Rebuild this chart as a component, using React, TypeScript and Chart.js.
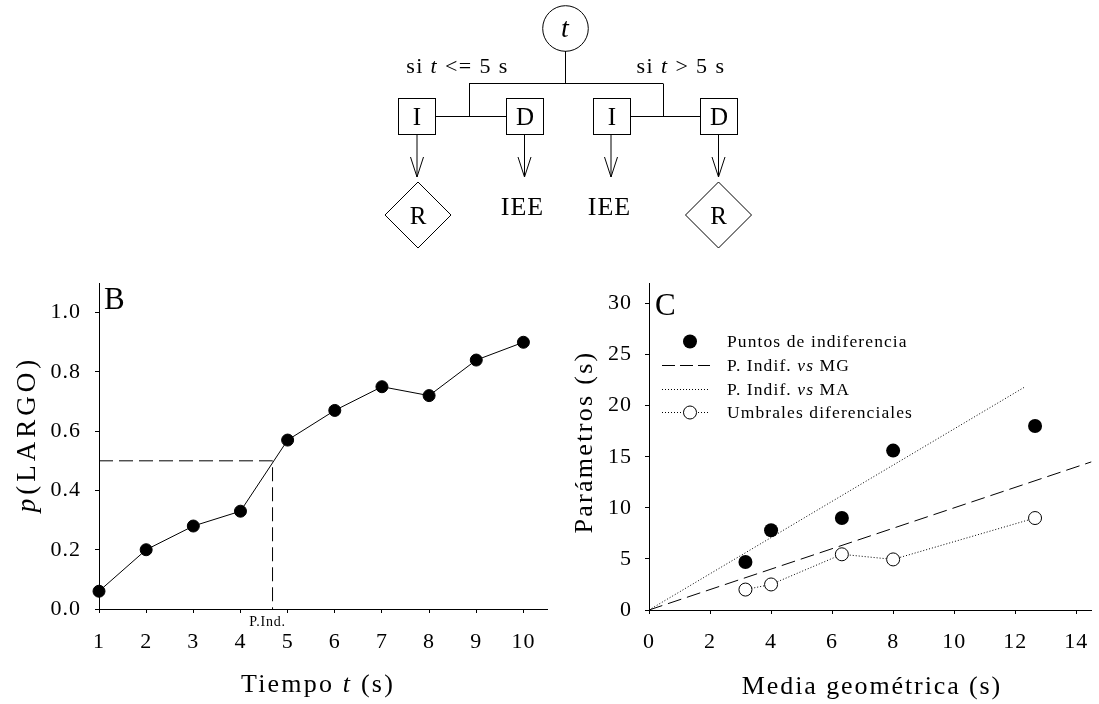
import React, { useEffect, useRef } from 'react';
import { Chart, registerables } from 'chart.js';

Chart.register(...registerables);

// ---------- Data: panel B ----------
const tiempo = [1, 2, 3, 4, 5, 6, 7, 8, 9, 10];
const pLargo = [0.06, 0.2, 0.28, 0.33, 0.57, 0.67, 0.75, 0.72, 0.84, 0.9];
const puntoIndiferencia = 4.68;
const criterio = 0.5;
const ticksBx = [1, 2, 3, 4, 5, 6, 7, 8, 9, 10];
const ticksBy = [0, 0.2, 0.4, 0.6, 0.8, 1.0];

// ---------- Data: panel C ----------
const mediaGeometrica = [3.16, 4.0, 6.32, 8.0, 12.65];
const puntosIndiferencia = [4.7, 7.8, 9.0, 15.6, 18.0];
const umbralesDiferenciales = [2.0, 2.5, 5.45, 4.95, 9.0];
const lineaMG_x = [0, 14.5];
const lineaMG_y = [0, 14.5];
const lineaMA_x = [0, 12.3];
const lineaMA_y = [0, 21.8];
const ticksCx = [0, 2, 4, 6, 8, 10, 12, 14];
const ticksCy = [0, 5, 10, 15, 20, 25, 30];

const SERIF = '"Liberation Serif", "Times New Roman", serif';

const spacingPlugin = {
  id: 'tickSpacing',
  beforeDraw(chart: any) {
    chart.ctx.letterSpacing = '1px';
  },
  afterDraw(chart: any) {
    chart.ctx.letterSpacing = '0px';
  },
};

function axis(min: number, max: number, ticks: number[], size: { w?: number; h?: number }, padding: number, cb?: (v: any) => string) {
  return {
    type: 'linear',
    min,
    max,
    afterBuildTicks: (s: any) => {
      s.ticks = ticks.map((v) => ({ value: v }));
    },
    afterFit: (s: any) => {
      if (size.w !== undefined) s.width = size.w;
      if (size.h !== undefined) s.height = size.h;
      s.paddingLeft = 0;
      s.paddingRight = 0;
      s.paddingTop = 0;
      s.paddingBottom = 0;
    },
    grid: { drawOnChartArea: false, drawTicks: true, tickLength: 4, color: '#000', lineWidth: 1 },
    border: { display: true, color: '#000', width: 1 },
    ticks: {
      color: '#000',
      font: { family: SERIF, size: 22 },
      padding,
      maxRotation: 0,
      autoSkip: false,
      callback: cb ? cb : (v: any) => String(v),
    },
  };
}

function configB(): any {
  return {
    type: 'scatter',
    data: {
      datasets: [
        {
          data: [
            { x: tiempo[0], y: criterio },
            { x: puntoIndiferencia, y: criterio },
            { x: puntoIndiferencia, y: 0 },
          ],
          showLine: true,
          borderColor: '#000',
          borderWidth: 1,
          borderDash: [14, 6],
          pointRadius: 0,
          clip: false,
          order: 2,
        },
        {
          data: tiempo.map((t, i) => ({ x: t, y: pLargo[i] })),
          showLine: true,
          borderColor: '#000',
          borderWidth: 1,
          backgroundColor: '#000',
          pointBackgroundColor: '#000',
          pointBorderColor: '#000',
          pointRadius: 6,
          pointBorderWidth: 1,
          clip: false,
          order: 1,
        },
      ],
    },
    options: {
      animation: false,
      responsive: false,
      events: [],
      layout: { padding: { top: 23, right: 13, left: 0, bottom: 0 } },
      plugins: { legend: { display: false }, tooltip: { enabled: false } },
      scales: {
        x: axis(1, 10.5, ticksBx, { h: 95 }, 16),
        y: axis(0, 1.1, ticksBy, { w: 99 }, 14, (v: any) => Number(v).toFixed(1)),
      },
    },
    plugins: [spacingPlugin],
  };
}

function configC(): any {
  return {
    type: 'scatter',
    data: {
      datasets: [
        {
          label: 'P. Indif. vs MG',
          data: lineaMG_x.map((x, i) => ({ x, y: lineaMG_y[i] })),
          showLine: true,
          borderColor: '#000',
          borderWidth: 1,
          borderDash: [14, 6],
          pointRadius: 0,
          order: 4,
        },
        {
          label: 'P. Indif. vs MA',
          data: lineaMA_x.map((x, i) => ({ x, y: lineaMA_y[i] })),
          showLine: true,
          borderColor: '#000',
          borderWidth: 1,
          borderDash: [1, 2],
          pointRadius: 0,
          order: 3,
        },
        {
          label: 'Umbrales diferenciales',
          data: mediaGeometrica.map((x, i) => ({ x, y: umbralesDiferenciales[i] })),
          showLine: true,
          borderColor: '#000',
          borderWidth: 1,
          borderDash: [1, 2],
          pointRadius: 6.5,
          pointBackgroundColor: '#fff',
          pointBorderColor: '#000',
          pointBorderWidth: 1,
          clip: false,
          order: 2,
        },
        {
          label: 'Puntos de indiferencia',
          data: mediaGeometrica.map((x, i) => ({ x, y: puntosIndiferencia[i] })),
          showLine: false,
          pointRadius: 7,
          pointBackgroundColor: '#000',
          pointBorderColor: '#000',
          pointBorderWidth: 0,
          clip: false,
          order: 1,
        },
      ],
    },
    options: {
      animation: false,
      responsive: false,
      events: [],
      layout: { padding: { top: 23, right: 2, left: 0, bottom: 0 } },
      plugins: { legend: { display: false }, tooltip: { enabled: false } },
      scales: {
        x: axis(0, 14.5, ticksCx, { h: 94 }, 15),
        y: axis(0, 32, ticksCy, { w: 89 }, 13),
      },
    },
    plugins: [spacingPlugin],
  };
}

const txt = (extra: React.CSSProperties): React.CSSProperties => ({
  position: 'absolute',
  fontFamily: SERIF,
  color: '#000',
  lineHeight: 1,
  whiteSpace: 'nowrap',
  ...extra,
});

function Diagram() {
  const boxes = [
    { x: 398, label: 'I' },
    { x: 506, label: 'D' },
    { x: 593, label: 'I' },
    { x: 700, label: 'D' },
  ];
  const bw = 37;
  const arrow = (cx: number) => (
    <g key={'a' + cx}>
      <line x1={cx} y1={134} x2={cx} y2={177} stroke="#000" strokeWidth={1} />
      <polyline points={`${cx - 6.5},157 ${cx},177 ${cx + 6.5},157`} fill="none" stroke="#000" strokeWidth={1} />
    </g>
  );
  const diamond = (cx: number) => (
    <g key={'d' + cx}>
      <polygon points={`${cx},182 ${cx + 33},215 ${cx},248 ${cx - 33},215`} fill="#fff" stroke="#000" strokeWidth={1} />
      <text x={cx} y={223.5} textAnchor="middle" fontSize={25} fontFamily={SERIF}>R</text>
    </g>
  );
  return (
    <g>
      <circle cx={565.5} cy={28.5} r={22.8} fill="#fff" stroke="#000" strokeWidth={1} />
      <text x={565} y={36.5} textAnchor="middle" fontSize={28} fontStyle="italic" fontFamily={SERIF}>t</text>
      <line x1={565.5} y1={51} x2={565.5} y2={83.5} stroke="#000" />
      <line x1={469} y1={83.5} x2={663} y2={83.5} stroke="#000" />
      <line x1={469.5} y1={83.5} x2={469.5} y2={116.5} stroke="#000" />
      <line x1={663.5} y1={83.5} x2={663.5} y2={116.5} stroke="#000" />
      <line x1={436} y1={116.5} x2={506} y2={116.5} stroke="#000" />
      <line x1={630} y1={116.5} x2={700} y2={116.5} stroke="#000" />
      {boxes.map((b) => (
        <g key={'b' + b.x}>
          <rect x={b.x + 0.5} y={98.5} width={bw} height={36} fill="#fff" stroke="#000" strokeWidth={1} />
          <text x={b.x + bw / 2 + 0.5} y={125} textAnchor="middle" fontSize={25} fontFamily={SERIF}>{b.label}</text>
        </g>
      ))}
      {arrow(417)}
      {arrow(524.5)}
      {arrow(611)}
      {arrow(718.5)}
      {diamond(418)}
      {diamond(718.5)}
      <text x={522.5} y={215} textAnchor="middle" fontSize={26} fontFamily={SERIF} style={{ letterSpacing: '1px' }}>IEE</text>
      <text x={609.5} y={215} textAnchor="middle" fontSize={26} fontFamily={SERIF} style={{ letterSpacing: '1px' }}>IEE</text>
      <text x={457.5} y={72.5} textAnchor="middle" fontSize={22} fontFamily={SERIF} style={{ letterSpacing: '1.4px' }}>
        si <tspan fontStyle="italic">t</tspan> &lt;= 5 s
      </text>
      <text x={681} y={72.5} textAnchor="middle" fontSize={22} fontFamily={SERIF} style={{ letterSpacing: '1.4px' }}>
        si <tspan fontStyle="italic">t</tspan> &gt; 5 s
      </text>
    </g>
  );
}

function LegendSymbols() {
  return (
    <g>
      <circle cx={690} cy={341.5} r={7} fill="#000" />
      <line x1={662} y1={365.5} x2={710} y2={365.5} stroke="#000" strokeWidth={1} strokeDasharray="13 5" />
      <line x1={662} y1={389.5} x2={710} y2={389.5} stroke="#000" strokeWidth={1} strokeDasharray="1 2" />
      <line x1={662} y1={412.5} x2={710} y2={412.5} stroke="#000" strokeWidth={1} strokeDasharray="1 2" />
      <circle cx={690} cy={412.5} r={6.5} fill="#fff" stroke="#000" strokeWidth={1} />
    </g>
  );
}

export default function App() {
  const refB = useRef<HTMLCanvasElement>(null);
  const refC = useRef<HTMLCanvasElement>(null);

  useEffect(() => {
    const cb = new Chart(refB.current as HTMLCanvasElement, configB());
    const cc = new Chart(refC.current as HTMLCanvasElement, configC());
    return () => {
      cb.destroy();
      cc.destroy();
    };
  }, []);

  const legendText: React.CSSProperties = { fontSize: 17.5, letterSpacing: '1.1px', left: 727 };

  return (
    <div style={{ position: 'absolute', left: 0, top: 0, width: 1099, height: 704, background: '#fff', overflow: 'hidden' }}>
      <canvas ref={refB} width={560} height={444} style={{ position: 'absolute', left: 0, top: 260, width: 560, height: 444 }} />
      <canvas ref={refC} width={539} height={444} style={{ position: 'absolute', left: 560, top: 260, width: 539, height: 444 }} />
      <svg width={1099} height={704} style={{ position: 'absolute', left: 0, top: 0, pointerEvents: 'none' }}>
        <Diagram />
        <LegendSymbols />
      </svg>

      {/* Panel B texts */}
      <div style={txt({ left: 104, top: 283, fontSize: 31 })}>B</div>
      <div style={txt({ left: 267.5, top: 621.5, fontSize: 14, letterSpacing: '0.8px', transform: 'translate(-50%, -50%)' })}>P.Ind.</div>
      <div style={txt({ left: 318, top: 684, fontSize: 26, letterSpacing: '2.2px', transform: 'translate(-50%, -50%)' })}>
        Tiempo <i>t</i> (s)
      </div>
      <div style={txt({ left: 26, top: 434, fontSize: 27, letterSpacing: '4px', transform: 'translate(-50%, -50%) rotate(-90deg)' })}>
        <i>p</i>(LARGO)
      </div>

      {/* Panel C texts */}
      <div style={txt({ left: 655, top: 289, fontSize: 31 })}>C</div>
      <div style={txt({ left: 872, top: 686, fontSize: 26, letterSpacing: '1.9px', transform: 'translate(-50%, -50%)' })}>
        Media geométrica (s)
      </div>
      <div style={txt({ left: 584, top: 442, fontSize: 26, letterSpacing: '2.3px', transform: 'translate(-50%, -50%) rotate(-90deg)' })}>
        Parámetros (s)
      </div>

      {/* Panel C legend */}
      <div style={txt({ ...legendText, top: 341.5, transform: 'translateY(-50%)' })}>Puntos de indiferencia</div>
      <div style={txt({ ...legendText, top: 365.5, transform: 'translateY(-50%)' })}>
        P. Indif. <i>vs</i> MG
      </div>
      <div style={txt({ ...legendText, top: 389.5, transform: 'translateY(-50%)' })}>
        P. Indif. <i>vs</i> MA
      </div>
      <div style={txt({ ...legendText, top: 412.5, transform: 'translateY(-50%)' })}>Umbrales diferenciales</div>
    </div>
  );
}
